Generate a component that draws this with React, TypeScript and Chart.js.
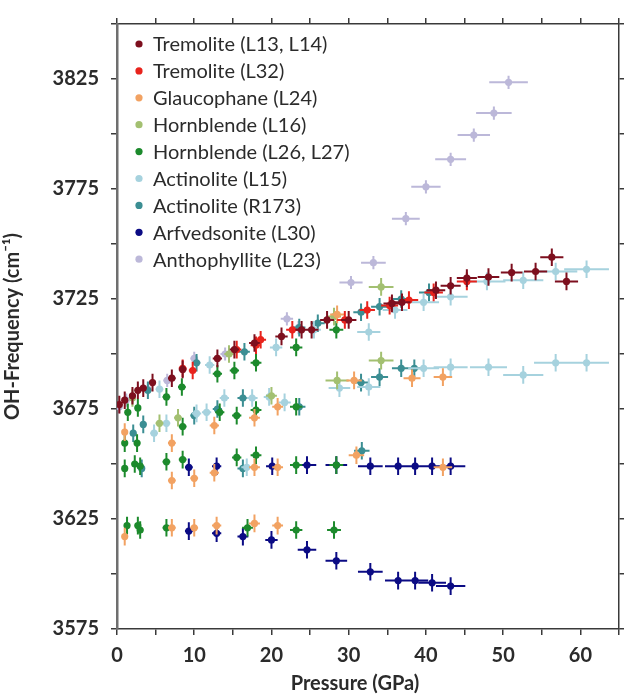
import { useEffect, useRef } from "react";
import { Chart, registerables } from "chart.js";

Chart.register(...registerables);

// Each point: [pressure (GPa), OH frequency (cm-1), pressure uncertainty (GPa)]
type Pt = [number, number, number];

const tremoliteL13L14: Pt[] = [
  [0.3, 3677, 0.3], [1.0, 3679, 0.3], [2.0, 3681, 0.4], [2.7, 3683.5, 0.4], [3.4, 3684.5, 0.4],
  [4.6, 3687, 0.4], [7.1, 3689, 0.5], [8.5, 3693, 0.5], [13.0, 3698, 0.6], [15.2, 3702, 0.6],
  [17.8, 3705, 0.7], [21.3, 3708, 0.8], [23.9, 3711, 0.8], [25.2, 3711, 0.9], [27.2, 3715.5, 0.9],
  [30.0, 3715.5, 1.0], [35.6, 3723, 1.1], [36.9, 3723.5, 1.1], [41.3, 3729, 1.2], [43.2, 3731, 1.3],
  [45.3, 3734.5, 1.3], [48.1, 3735, 1.4], [51.1, 3737, 1.4], [54.2, 3737.5, 1.5], [56.3, 3744, 1.5],
  [58.2, 3733, 1.5],
];

const tremoliteL32: Pt[] = [
  [8.5, 3693.5, 0.5], [9.8, 3692.5, 0.5], [15.5, 3702, 0.6], [18.0, 3704, 0.7], [18.6, 3706.5, 0.7],
  [22.7, 3711, 0.8], [29.5, 3715.5, 1.0], [32.4, 3720, 1.0], [35.3, 3722, 1.1], [37.8, 3724.5, 1.2],
  [41.0, 3728, 1.2], [45.3, 3733, 1.3],
];

const glaucophaneL24: Pt[] = [
  [1.0, 3617, 0.3], [7.1, 3621, 0.5], [10.0, 3621, 0.5], [12.9, 3622, 0.6], [17.8, 3623, 0.7],
  [20.8, 3622, 0.7], [7.1, 3642.5, 0.5], [10.0, 3643.5, 0.5], [12.6, 3646, 0.6], [17.8, 3648.5, 0.7],
  [20.8, 3648.5, 0.7], [31.0, 3654, 1.0], [42.2, 3648.5, 1.2], [1.0, 3664.5, 0.3], [7.1, 3659.5, 0.5],
  [12.6, 3667.5, 0.6], [17.8, 3671, 0.7], [20.8, 3676, 0.7], [30.7, 3688, 1.0], [38.2, 3689, 1.1],
  [42.2, 3689.5, 1.2], [28.5, 3718, 0.9],
];

const hornblendeL16: Pt[] = [
  [2.0, 3680, 0.4], [5.5, 3668.5, 0.5], [7.9, 3671, 0.5], [14.5, 3700, 0.6], [20.0, 3681, 0.7],
  [28.1, 3717, 0.9], [28.5, 3688, 1.5], [34.2, 3697, 1.6], [34.2, 3730.5, 1.6],
];

const hornblendeL26L27: Pt[] = [
  [1.3, 3622, 0.3], [2.7, 3622, 0.4], [3.0, 3620, 0.4], [6.4, 3621, 0.5], [16.9, 3621, 0.7],
  [23.2, 3620, 0.8], [28.1, 3620, 0.9],
  [1.0, 3648, 0.3], [2.3, 3650, 0.4], [3.0, 3649, 0.4], [6.4, 3651, 0.5], [8.5, 3652, 0.5],
  [15.5, 3653, 0.6], [18.0, 3654, 0.7], [23.2, 3649.5, 0.8], [28.4, 3649.5, 0.9],
  [1.0, 3659.5, 0.3], [2.6, 3659.5, 0.4],
  [1.4, 3673.5, 0.3], [2.7, 3675.5, 0.4], [8.5, 3667, 0.5], [13.3, 3673.5, 0.6], [15.5, 3672, 0.6],
  [18.0, 3674.5, 0.7], [23.2, 3676, 0.8],
  [6.4, 3680.5, 0.5], [8.4, 3685, 0.5], [13.0, 3691, 0.6], [15.2, 3692.5, 0.6], [18.0, 3696, 0.7],
  [23.2, 3703, 0.8], [28.4, 3711, 0.9],
];

const actinoliteL15: Pt[] = [
  [4.8, 3664, 0.5], [6.4, 3668.5, 0.5], [10.3, 3673, 0.6], [11.6, 3673.5, 0.6], [13.9, 3680, 0.6],
  [17.5, 3680, 0.7], [19.7, 3680.5, 0.7], [21.7, 3678, 0.8], [16.8, 3648.5, 0.7],
  [5.5, 3684, 0.5], [12.0, 3695, 0.6], [20.6, 3703, 0.8], [25.5, 3711, 0.9], [32.6, 3710, 1.5],
  [36.0, 3720, 1.6],
  [28.8, 3684.5, 1.4], [32.6, 3685, 1.5], [39.7, 3693.5, 2.0], [43.2, 3694, 2.2], [48.1, 3694, 2.4],
  [52.6, 3690.5, 2.6], [56.8, 3696, 2.8], [60.8, 3696, 2.9],
  [39.7, 3723.5, 2.0], [43.2, 3726, 2.2], [47.9, 3733, 2.4], [52.6, 3733.5, 2.6], [56.8, 3737.5, 2.8],
  [60.8, 3738.5, 2.9],
];

const actinoliteR173: Pt[] = [
  [2.1, 3664, 0.4], [3.2, 3648, 0.4], [3.4, 3668, 0.4], [4.0, 3683.5, 0.4], [10.0, 3672, 0.5],
  [10.3, 3696, 0.5], [13.0, 3675, 0.6], [16.3, 3680, 0.7], [16.3, 3648, 0.7], [16.5, 3701, 0.7],
  [23.6, 3676, 0.8], [23.6, 3712, 0.8], [26.0, 3714, 0.9], [31.6, 3687, 1.0], [31.6, 3719, 1.0],
  [31.7, 3656, 1.0], [34.0, 3689.5, 1.1], [34.0, 3721.5, 1.1], [36.8, 3693.5, 1.2], [36.8, 3725, 1.2],
  [38.5, 3693.5, 1.2], [40.4, 3728, 1.3],
];

const arfvedsoniteL30: Pt[] = [
  [9.3, 3648.5, 0.5], [12.9, 3649, 0.6], [20.1, 3649, 0.8], [24.6, 3649.5, 1.2], [28.4, 3649.5, 1.4],
  [32.8, 3649, 1.6], [36.4, 3649, 1.7], [38.6, 3649, 1.7], [40.8, 3649, 1.8], [43.2, 3649, 1.9],
  [9.3, 3619.5, 0.5], [12.9, 3618.5, 0.6], [16.3, 3617, 0.7], [20.0, 3615.5, 0.8], [24.6, 3611, 1.2],
  [28.4, 3606, 1.4], [32.8, 3601, 1.6], [36.4, 3597, 1.7], [38.6, 3597, 1.7], [40.8, 3596, 1.8],
  [43.2, 3594.5, 1.9],
];

const anthophylliteL23: Pt[] = [
  [0.3, 3676, 0.3], [1.2, 3679, 0.3], [2.0, 3680.5, 0.4], [4.0, 3684, 0.4], [6.5, 3688, 0.5],
  [10.0, 3698, 0.5], [14.0, 3700, 0.6], [22.0, 3716, 0.8], [23.5, 3712, 0.8],
  [30.3, 3732.5, 1.5], [33.2, 3741.5, 1.6], [37.4, 3761.5, 1.8], [40.0, 3776, 1.9], [43.2, 3788.5, 2.0],
  [46.2, 3799.5, 2.1], [48.8, 3809.5, 2.3], [50.7, 3823.5, 2.5],
];

const seriesLabels = [
  "Tremolite (L13, L14)",
  "Tremolite (L32)",
  "Glaucophane (L24)",
  "Hornblende (L16)",
  "Hornblende (L26, L27)",
  "Actinolite (L15)",
  "Actinolite (R173)",
  "Arfvedsonite (L30)",
  "Anthophyllite (L23)",
];

const seriesData = [
  tremoliteL13L14, tremoliteL32, glaucophaneL24, hornblendeL16, hornblendeL26L27,
  actinoliteL15, actinoliteR173, arfvedsoniteL30, anthophylliteL23,
];

const seriesColors = [
  "#7d0f1e", "#e8231c", "#f2a262", "#a3c071", "#1c8a2c",
  "#a6d2de", "#3b8e93", "#0b0b84", "#bcb8d9",
];

// frequency uncertainty (cm-1) per series
const freqUncertainty = [4, 4, 4, 4, 4, 4, 4, 4, 3];

const xTicksMajor = [0, 10, 20, 30, 40, 50, 60];
const yTicksMajor = [3575, 3625, 3675, 3725, 3775, 3825];

const FONT = "Lato, 'Open Sans', sans-serif";
const TEXT = "#2b2b2b";
const AXIS = "#3a3a3a";

const errorBars = {
  id: "errorBars",
  beforeDatasetDraw(chart: any, args: any) {
    const { ctx, scales } = chart;
    const xs = scales.x;
    const ys = scales.y;
    const ds = chart.data.datasets[args.index];
    ctx.save();
    ctx.strokeStyle = ds.backgroundColor;
    ctx.lineWidth = 2;
    ctx.beginPath();
    for (const d of ds.data) {
      const px = xs.getPixelForValue(d.x);
      const py = ys.getPixelForValue(d.y);
      ctx.moveTo(xs.getPixelForValue(d.x - d.xe), py);
      ctx.lineTo(xs.getPixelForValue(d.x + d.xe), py);
      ctx.moveTo(px, ys.getPixelForValue(d.y - d.ye));
      ctx.lineTo(px, ys.getPixelForValue(d.y + d.ye));
    }
    ctx.stroke();
    ctx.restore();
  },
};

const insetLegend = {
  id: "insetLegend",
  afterDraw(chart: any) {
    const { ctx, chartArea } = chart;
    ctx.save();
    ctx.font = `20px ${FONT}`;
    ctx.textBaseline = "middle";
    ctx.textAlign = "left";
    chart.data.datasets.forEach((ds: any, i: number) => {
      const yy = chartArea.top + 20 + i * 26.9;
      ctx.beginPath();
      ctx.arc(chartArea.left + 22, yy, 3.6, 0, Math.PI * 2);
      ctx.fillStyle = ds.backgroundColor;
      ctx.fill();
      ctx.fillStyle = TEXT;
      ctx.fillText(ds.label, chartArea.left + 36, yy + 1);
    });
    // x-axis title
    ctx.font = `bold 20px ${FONT}`;
    ctx.textAlign = "center";
    ctx.fillText("Pressure (GPa)", 355, 684);
    ctx.restore();
  },
};

function axisCommon(min: number, max: number, step: number) {
  return {
    type: "linear" as const,
    min,
    max,
    grid: { drawOnChartArea: false, drawTicks: true, tickLength: 6, color: AXIS, lineWidth: 1.5 },
    border: { display: true, color: AXIS, width: 1.5 },
    ticks: { stepSize: step, autoSkip: false, maxRotation: 0 },
  };
}

export default function App() {
  const canvasRef = useRef<HTMLCanvasElement | null>(null);

  useEffect(() => {
    if (!canvasRef.current) return;
    const datasets = seriesData.map((pts, i) => ({
      label: seriesLabels[i],
      data: pts.map(([p, f, pe]) => ({ x: p, y: f, xe: pe, ye: freqUncertainty[i] })),
      backgroundColor: seriesColors[i],
      borderColor: seriesColors[i],
      borderWidth: 0,
      pointRadius: 3.6,
      pointHoverRadius: 3.6,
      pointStyle: "circle",
      showLine: false,
    }));

    const tickFont = { family: FONT, size: 20, weight: "bold" as const };

    const chart = new Chart(canvasRef.current, {
      type: "scatter",
      data: { datasets },
      options: {
        animation: false,
        responsive: false,
        devicePixelRatio: 1,
        layout: { padding: 0 },
        plugins: { legend: { display: false }, tooltip: { enabled: false } },
        scales: {
          x: {
            ...axisCommon(0, 65, 5),
            position: "bottom",
            ticks: {
              stepSize: 5, autoSkip: false, maxRotation: 0, padding: 9,
              font: tickFont, color: TEXT,
              callback: (v: any) => (xTicksMajor.includes(Number(v)) ? String(v) : ""),
            },
            afterFit: (s: any) => { s.height = 65; },
          },
          xTop: {
            ...axisCommon(0, 65, 5),
            position: "top",
            ticks: { stepSize: 5, autoSkip: false, maxRotation: 0, callback: () => "" },
            afterFit: (s: any) => { s.height = 22; },
          },
          y: {
            ...axisCommon(3575, 3850, 25),
            position: "left",
            border: { display: true, color: "#6f6f6f", width: 2.5 },
            ticks: {
              stepSize: 25, autoSkip: false, padding: 12,
              font: tickFont, color: TEXT,
              callback: (v: any) => (yTicksMajor.includes(Number(v)) ? String(v) : ""),
            },
            title: {
              display: true,
              text: "OH-Frequency (cm\u207B\u00B9)",
              color: TEXT,
              font: { family: FONT, size: 20, weight: "bold" },
              padding: { top: 1, bottom: 0 },
            },
            afterFit: (s: any) => { s.width = 117; },
          },
          yRight: {
            ...axisCommon(3575, 3850, 25),
            position: "right",
            grid: { drawOnChartArea: false, drawTicks: true, tickLength: 5, color: AXIS, lineWidth: 1.5 },
            ticks: { stepSize: 25, autoSkip: false, callback: () => "" },
            afterFit: (s: any) => { s.width = 5; },
          },
        },
      } as any,
      plugins: [errorBars, insetLegend],
    });
    return () => chart.destroy();
  }, []);

  return (
    <div style={{ position: "absolute", left: 0, top: 0, width: 628, height: 694, background: "#fff" }}>
      <canvas ref={canvasRef} width={628} height={694} style={{ display: "block" }} />
    </div>
  );
}
